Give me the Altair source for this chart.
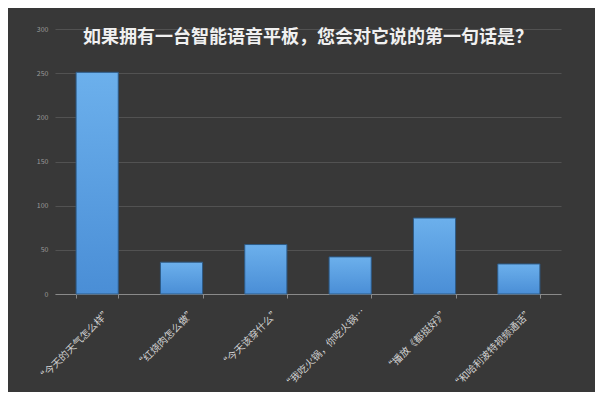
import altair as alt
import pandas as pd

categories = ["“今天的天气怎么样”", "“红烧肉怎么做”", "“今天该穿什么”",
              "“我吃火锅，你吃火锅…", "“播放《都挺好》”", "“和哈利波特视频通话”"]
values = [251, 36, 56, 42, 86, 34]
y_ticks = [0, 50, 100, 150, 200, 250, 300]
title_text = "如果拥有一台智能语音平板，您会对它说的第一句话是？"

df = pd.DataFrame({"cat": categories, "val": values})
FONT = "Noto Sans CJK SC"

chart = alt.Chart(df).mark_bar(
    color=alt.Gradient(
        gradient="linear",
        stops=[alt.GradientStop(color="#6cb0ec", offset=0),
               alt.GradientStop(color="#4a8ed6", offset=1)],
        x1=0, x2=0, y1=0, y2=1),
    stroke="#2d5a86", strokeWidth=1
).encode(
    x=alt.X("cat:N", sort=categories,
            scale=alt.Scale(paddingInner=0.5, paddingOuter=0.25),
            axis=alt.Axis(title=None, labelAngle=-45, labelFontSize=10,
                          labelColor="#d0d0d0", labelFont=FONT,
                          domainColor="#8a8a8a", tickColor="#8a8a8a",
                          tickBand="extent", tickSize=4, labelPadding=8,
                          labelOffset=9, labelLimit=200)),
    y=alt.Y("val:Q", scale=alt.Scale(domain=[0, 300], nice=False),
            axis=alt.Axis(title=None, values=y_ticks, labelFontSize=7,
                          labelColor="#9a9a9a", labelFont=FONT,
                          domain=False, ticks=False, labelPadding=7,
                          gridColor="#525252", gridWidth=1))
).properties(
    width=506, height=265,
    title=alt.TitleParams(title_text, fontSize=18, fontWeight="bold",
                          color="#f0f0f0", font=FONT, anchor="middle",
                          offset=-22),
    autosize=alt.AutoSizeParams(type="none"),
    padding={"left": 47, "top": 21, "right": 34, "bottom": 98},
    background="#383838"
).configure_view(stroke=None)

chart.save("out.html", embed_options={"renderer": "svg", "actions": False})
